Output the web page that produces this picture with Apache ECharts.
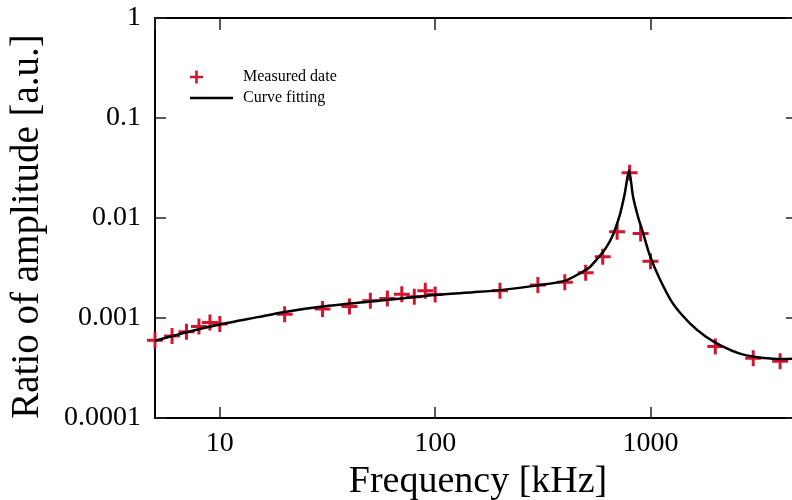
<!DOCTYPE html>
<html>
<head>
<meta charset="utf-8">
<script src="https://cdn.jsdelivr.net/npm/echarts@6/dist/echarts.min.js"></script>
<style>
  html, body { margin: 0; padding: 0; background: #ffffff; }
  #chart { width: 792px; height: 500px; }
</style>
</head>
<body>
<div id="chart"></div>
<script>
// Measured amplitude ratio versus frequency (kHz)
const measuredFreq = [5, 6, 7, 8, 9, 10, 20, 30, 40, 50, 60, 70, 80, 90, 100,
  200, 300, 400, 500, 600, 700, 800, 900, 1000, 2000, 3000, 4000];
const measuredAmp = [0.00060, 0.00066, 0.00073, 0.00082, 0.00090, 0.00087,
  0.00109, 0.00123, 0.00130, 0.00149, 0.00157, 0.00173, 0.00163, 0.00187, 0.00172,
  0.00187, 0.00214, 0.00228, 0.00284, 0.0041, 0.0073, 0.0284, 0.0070, 0.0037,
  0.00052, 0.000395, 0.00037];

// Fitted resonance curve
const fitFreq = [5, 7, 10, 15, 20, 30, 50, 70, 100, 150, 200, 300, 400, 470, 520,
  560, 620, 670, 720, 760, 795, 830, 875, 920, 990, 1100, 1270, 1520, 1810, 2160,
  2580, 3090, 3690, 4300, 5000];
const fitAmp = [0.00059, 0.00072, 0.00086, 0.00102, 0.00115, 0.00130, 0.00146,
  0.00157, 0.00170, 0.00181, 0.00190, 0.00212, 0.00235, 0.0028, 0.0032,
  0.0038, 0.0050, 0.0068, 0.0107, 0.0177, 0.0300, 0.0163, 0.0103, 0.0073, 0.0043,
  0.0025, 0.0014, 0.00089, 0.00065, 0.00052, 0.000443, 0.000407, 0.000392,
  0.000390, 0.000392];

// Axis ranges
const freqRange = [5, 5000];
const ampRange = [0.0001, 1];

const seriesNames = ['Measured date', 'Curve fitting'];
const axisNames = ['Frequency [kHz]', 'Ratio of amplitude [a.u.]'];

const serif = '"Liberation Serif", "DejaVu Serif", serif';
const red = '#d3162f';
const crossPath = 'path://M6.5,0H9.5V6.5H16V9.5H9.5V16H6.5V9.5H0V6.5H6.5Z';
// legend icons: a cross at the left end, and a plain bar, both in a 43x13 box
const legendCross = 'path://M5.2,0H7.8V5.2H13V7.8H7.8V13H5.2V7.8H0V5.2H5.2Z M43,6 L43,7 Z';
const legendBar = 'path://M0,0L0,0.01Z M0,5.25H43V7.75H0Z M0,13L0,12.99Z';

const fmt = v => String(+Number(v).toPrecision(6));

const frameLine = { show: true, lineStyle: { color: '#000', width: 2 } };
const tick = len => ({ show: true, inside: true, length: len, lineStyle: { color: '#222', width: 1.5 } });

const chart = echarts.init(document.getElementById('chart'), null, { renderer: 'canvas' });
chart.setOption({
  backgroundColor: '#ffffff',
  animation: false,
  grid: { left: 155, top: 18, bottom: 82, right: -9, containLabel: false, outerBoundsMode: 'none' },
  legend: {
    orient: 'vertical',
    left: 185,
    top: 64,
    itemWidth: 43,
    itemHeight: 13,
    itemGap: 5,
    textStyle: { fontFamily: serif, fontSize: 16, color: '#000', padding: [0, 0, 0, 5] },
    data: [
      { name: seriesNames[0], icon: legendCross },
      { name: seriesNames[1], icon: legendBar, itemStyle: { color: '#000' } }
    ]
  },
  xAxis: [
    {
      type: 'log', logBase: 10, min: freqRange[0], max: freqRange[1],
      position: 'bottom',
      name: axisNames[0], nameLocation: 'middle', nameGap: 43,
      nameTextStyle: { fontFamily: serif, fontSize: 38, color: '#000' },
      axisLine: frameLine, axisTick: tick(11),
      axisLabel: { show: true, fontFamily: serif, fontSize: 28, color: '#000', margin: 12,
        formatter: fmt, showMinLabel: false, showMaxLabel: false },
      splitLine: { show: false }, minorTick: { show: false }
    },
    {
      type: 'log', logBase: 10, min: freqRange[0], max: freqRange[1],
      position: 'top',
      axisLine: frameLine, axisTick: tick(12),
      axisLabel: { show: false }, splitLine: { show: false }
    }
  ],
  yAxis: [
    {
      type: 'log', logBase: 10, min: ampRange[0], max: ampRange[1],
      position: 'left',
      name: axisNames[1], nameLocation: 'middle', nameGap: 108,
      nameTextStyle: { fontFamily: serif, fontSize: 39, color: '#000', padding: [0, 17, 0, 0] },
      axisLine: frameLine, axisTick: tick(11),
      axisLabel: { show: true, fontFamily: serif, fontSize: 28, color: '#000', margin: 14, formatter: fmt },
      splitLine: { show: false }, minorTick: { show: false }
    },
    {
      type: 'log', logBase: 10, min: ampRange[0], max: ampRange[1],
      position: 'right',
      axisLine: frameLine, axisTick: tick(15),
      axisLabel: { show: false }, splitLine: { show: false }
    }
  ],
  series: [
    {
      name: seriesNames[0],
      type: 'scatter',
      xAxisIndex: 0, yAxisIndex: 0,
      symbol: crossPath,
      symbolSize: 16,
      itemStyle: { color: red, opacity: 1 },
      data: measuredFreq.map((f, i) => [f, measuredAmp[i]]),
      z: 2
    },
    {
      name: seriesNames[1],
      type: 'line',
      xAxisIndex: 0, yAxisIndex: 0,
      symbol: 'none',
      smooth: 0.25,
      lineStyle: { color: '#000', width: 2.5 },
      itemStyle: { color: '#000' },
      data: fitFreq.map((f, i) => [f, fitAmp[i]]),
      z: 3
    }
  ]
});
</script>
</body>
</html>
